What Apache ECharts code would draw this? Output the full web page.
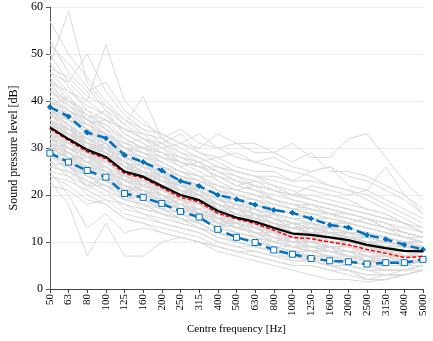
<!DOCTYPE html>
<html>
<head>
<meta charset="utf-8">
<script src="https://cdn.jsdelivr.net/npm/echarts@6/dist/echarts.min.js"></script>
<style>html,body{margin:0;padding:0;background:#fff}#c{width:433px;height:341px}</style>
</head>
<body>
<div id="c"></div>
<script>
var categories = ['50','63','80','100','125','160','200','250','315','400','500','630','800','1000','1250','1600','2000','2500','3150','4000','5000'];
var yTicks = [0,10,20,30,40,50,60];

var meanLevel   = [34.4,31.9,29.6,28.1,25.0,23.9,21.9,20.0,18.9,16.6,15.2,14.3,13.0,11.8,11.5,11.0,10.4,9.4,8.7,8.1,8.0];
var medianLevel = [34.1,31.6,29.2,27.7,24.6,23.6,21.5,19.5,18.5,16.1,14.9,13.9,12.5,11.0,10.7,10.0,9.4,8.4,7.6,6.7,6.9];
var upperLevel  = [38.7,36.7,33.3,32.1,28.5,27.0,25.2,23.0,21.9,20.0,19.1,17.9,16.8,16.2,15.0,13.6,13.1,11.5,10.6,9.4,8.4];
var lowerLevel  = [28.9,27.0,25.2,23.8,20.3,19.5,18.2,16.5,15.3,12.7,11.0,9.9,8.3,7.4,6.5,6.0,5.8,5.3,5.6,5.6,6.3];

var individualSpectra = [
  [40,38,36,33,30,28,27,25,24,21,20,19,17,16,15,14,13,12,11,10,10],
  [30,28,26,25,22,21,19,17,16,14,13,12,11,10,9,9,8,7,6,6,6],
  [36,34,30,31,26,27,23,22,21,18,17,17,15,13,14,12,12,11,10,9,9],
  [33,30,28,26,23,22,21,19,18,15,14,13,11,10,10,9,9,8,8,7,7],
  [45,41,37,35,31,29,26,24,22,20,18,17,15,14,13,12,11,10,9,8,8],
  [28,27,25,24,21,20,19,17,17,15,13,12,11,10,10,9,8,7,7,6,6],
  [38,36,33,31,28,26,24,22,21,19,18,17,16,14,14,13,12,11,11,10,10],
  [32,29,27,27,24,23,20,18,19,15,15,16,12,11,13,10,10,11,8,8,8],
  [35,33,31,28,25,25,23,21,19,17,16,14,13,12,11,11,10,9,9,8,7],
  [26,25,22,22,19,18,17,15,14,12,11,10,9,8,7,7,6,5,5,5,5],
  [42,39,35,33,29,27,25,23,22,19,18,17,16,15,15,14,14,13,12,11,10],
  [31,30,29,27,25,22,21,23,18,16,14,16,12,11,13,10,9,10,7,7,7],
  [34,31,28,29,26,24,22,19,19,16,15,15,13,12,12,11,11,10,9,8,8],
  [37,34,32,30,27,25,23,21,20,17,16,15,14,13,12,12,11,10,10,9,9],
  [29,28,24,23,21,21,20,18,16,14,13,12,10,9,9,8,8,7,6,6,6],
  [50,44,40,37,33,31,28,26,24,21,19,18,16,15,14,13,12,11,10,9,9],
  [33,32,30,28,24,26,21,20,22,17,16,17,13,11,14,10,10,9,8,7,8],
  [36,33,31,29,27,25,22,21,18,17,15,14,13,12,11,11,10,10,9,8,8],
  [24,23,21,19,18,17,16,15,13,11,10,9,8,7,7,6,5,4,4,4,4],
  [39,37,34,31,28,27,25,23,21,19,18,16,15,14,13,12,12,11,10,9,9],
  [32,30,27,25,23,23,21,19,18,16,15,14,12,11,11,10,9,9,8,7,7],
  [35,33,30,29,26,24,25,21,20,21,17,15,16,12,12,13,10,10,9,8,8],
  [30,29,26,26,22,21,20,18,17,14,14,13,12,10,10,10,9,8,7,7,6],
  [43,40,38,34,30,28,26,24,22,20,19,18,16,15,14,13,12,11,10,10,10],
  [34,30,29,31,24,24,22,23,19,16,18,14,13,14,11,11,12,9,9,10,8],
  [27,26,24,23,20,19,18,16,15,13,12,11,10,9,9,8,7,6,6,5,5],
  [37,35,31,30,26,24,22,20,19,17,16,15,13,12,12,11,11,10,9,8,8],
  [33,31,29,26,23,25,20,19,21,15,14,16,12,11,10,12,9,8,10,7,7],
  [41,38,35,32,29,28,26,24,23,21,20,19,17,16,16,15,14,13,12,11,11],
  [31,29,27,26,24,23,21,19,18,16,15,14,12,11,10,10,9,9,8,7,7],
  [57,50,45,40,36,33,30,27,25,23,21,20,18,17,16,15,14,13,12,11,10],
  [48,59,44,39,35,32,29,27,26,24,22,21,19,18,17,16,15,14,13,12,11],
  [46,44,50,42,37,34,31,28,27,25,23,21,20,19,18,17,16,15,13,12,11],
  [44,42,40,52,40,36,32,30,28,26,24,23,22,20,19,18,17,16,15,14,12],
  [52,48,43,38,35,41,32,29,27,25,23,22,21,19,18,17,16,15,14,12,11],
  [53,46,42,44,38,35,33,31,33,30,28,27,26,25,24,22,21,19,17,15,13],
  [47,45,41,39,36,34,33,31,30,33,31,31,29,31,28,28,32,33,28,23,19],
  [40,38,36,34,32,30,29,28,27,28,26,25,25,23,25,26,22,21,26,20,16],
  [38,36,35,33,31,30,29,27,26,25,24,22,21,20,22,21,20,21,19,17,15],
  [22,21,18,19,16,15,14,13,12,10,9,8,7,7,6,5,4,3,3,3,4],
  [23,18,7,14,7,7,10,11,10,9,8,7,6,5,5,4,3,2,2,3,4],
  [25,20,13,16,12,13,12,11,10,9,8,8,7,6,6,5,4,2,3,4,5],
  [30,26,22,24,20,17,16,14,13,11,10,9,8,6,6,5,4,2,2,3,4],
  [36,34,33,32,30,30,31,33,29,27,25,24,22,21,19,18,17,16,15,14,13],
  [34,33,31,30,28,27,26,25,24,24,22,23,21,20,20,19,18,17,16,14,12],
  [35,32,30,28,25,24,22,20,19,17,16,14,13,12,11,11,10,9,9,8,8],
  [33,31,29,27,25,27,22,20,18,20,15,14,16,12,11,13,10,10,9,8,8],
  [36,33,30,29,25,24,22,21,20,17,16,15,14,12,12,11,10,9,8,8,8],
  [32,30,28,27,24,23,21,19,18,16,15,14,12,11,11,10,10,9,8,8,7],
  [38,35,32,30,27,25,23,22,20,18,17,16,15,13,13,12,11,11,10,9,9],
  [30,28,27,29,23,22,24,19,17,18,14,13,14,11,10,12,9,8,9,7,7],
  [34,33,29,28,26,24,21,20,19,17,15,14,13,12,11,10,10,9,8,8,8],
  [37,34,31,28,26,25,23,21,19,18,17,15,14,13,12,12,11,10,9,9,8],
  [31,30,28,28,24,22,25,20,18,16,18,13,12,14,11,10,12,9,8,7,7],
  [35,34,31,29,25,24,23,21,20,17,16,15,14,12,12,11,11,10,9,8,8],
  [29,27,25,24,22,21,19,18,17,15,14,13,11,10,10,9,8,8,7,6,6],
  [39,36,33,31,27,26,24,22,21,18,17,16,14,13,12,12,11,10,10,9,9],
  [27,24,22,20,18,16,15,14,13,12,11,10,9,8,8,7,6,5,5,5,5],
  [25,24,20,18,15,14,13,12,11,9,8,7,6,5,5,4,4,3,3,3,4],
  [29,25,23,21,17,16,14,13,12,10,9,9,8,7,6,6,5,4,4,4,5],
  [32,28,25,23,20,18,16,15,14,12,11,10,9,8,7,7,6,5,5,5,6],
  [41,37,33,30,27,24,22,20,18,16,15,13,12,11,10,9,9,8,7,7,7],
  [44,39,36,32,28,26,24,22,21,19,17,16,14,13,12,11,10,9,8,8,8],
  [38,33,32,29,24,23,20,18,16,14,13,12,11,9,9,8,7,6,6,6,6],
  [36,31,29,25,22,21,19,17,16,14,13,12,10,9,8,8,7,6,5,5,6],
  [33,34,30,31,28,26,25,23,22,20,19,18,17,16,15,15,14,13,12,11,10],
  [30,31,29,30,27,25,24,22,22,20,19,19,18,17,17,16,16,15,14,12,11],
  [28,29,27,28,26,24,23,22,21,19,18,18,17,16,15,14,14,13,12,11,10],
  [37,36,34,33,30,29,27,25,24,22,21,20,19,18,18,17,16,15,14,13,12],
  [42,40,36,35,32,30,28,27,26,24,23,22,21,20,19,18,17,16,15,14,12],
  [46,42,39,37,34,32,30,28,26,24,22,21,19,18,17,16,15,14,13,12,11],
  [39,41,36,38,33,31,29,26,27,23,21,22,19,17,18,16,14,15,13,11,10],
  [26,27,21,24,19,20,17,18,15,13,14,11,10,11,8,9,7,6,7,5,5],
  [31,27,29,24,25,20,22,17,18,14,15,12,12,9,10,8,8,6,6,5,5],
  [35,31,33,27,28,22,24,19,20,15,16,13,13,10,11,9,9,7,7,6,6],
  [33,35,28,30,23,25,19,21,16,17,13,14,10,11,8,9,6,7,5,5,6],
  [37,35,30,28,23,21,18,16,14,12,11,10,9,8,7,7,6,5,5,5,6],
  [34,30,27,25,21,19,17,16,14,12,10,9,8,7,7,6,6,5,4,4,5],
  [40,36,31,29,25,22,20,18,16,14,12,11,10,9,8,8,7,6,6,5,6],
  [29,27,26,25,23,22,21,20,19,17,16,15,14,13,12,12,11,10,9,9,9],
  [27,26,25,23,22,21,20,19,18,17,16,15,14,13,13,12,11,10,10,9,9],
  [32,30,29,27,25,24,23,22,21,19,18,17,16,15,14,13,12,11,10,9,9],
  [38,35,32,30,26,24,22,21,19,18,16,15,14,12,11,10,9,8,7,7,7],
  [31,28,28,26,22,20,19,17,16,13,12,11,9,8,8,7,6,5,4,4,5],
  [35,32,31,28,25,22,20,18,17,15,13,12,10,9,8,8,7,6,5,5,6],
  [43,38,34,32,29,27,25,23,21,19,17,16,14,13,13,12,11,10,9,8,8],
  [34,32,31,30,28,27,25,24,23,21,20,19,17,16,15,14,13,12,11,10,9],
  [36,32,30,27,24,23,21,20,19,17,16,15,14,13,13,13,12,12,11,10,10],
  [30,29,25,26,21,22,18,19,16,15,13,14,12,11,12,10,9,10,8,7,7],
  [39,34,31,30,27,23,22,21,18,17,15,14,13,11,10,10,9,9,8,8,8],
  [28,26,24,22,21,19,17,16,15,13,12,11,10,9,8,7,7,6,5,5,5],
  [45,40,37,34,30,27,24,22,20,18,16,15,13,12,11,10,9,8,8,7,7],
  [33,31,28,28,25,21,20,17,17,14,14,13,11,11,9,9,8,8,7,6,6],
  [37,35,32,31,29,27,26,24,23,22,20,19,18,17,16,16,15,14,13,12,11],
  [32,31,30,29,27,25,23,22,20,18,17,16,15,14,14,13,13,12,11,10,9],
  [29,26,23,22,19,18,16,15,13,12,10,9,8,7,6,5,5,4,3,3,4],
  [35,33,29,27,24,23,21,19,18,16,14,13,12,11,10,10,9,8,8,7,7],
  [41,38,36,33,30,29,27,25,24,22,21,20,19,18,17,16,15,14,13,12,11],
  [34,33,30,30,27,24,24,21,21,18,17,16,15,14,13,13,12,11,10,9,8],
  [31,29,27,25,23,21,19,18,16,15,14,12,11,10,9,9,8,7,7,6,6],
  [36,34,32,30,27,26,25,22,21,19,19,17,16,15,15,14,13,12,11,10,9],
  [33,29,27,24,21,21,18,17,15,13,12,11,10,9,8,8,7,6,6,6,6],
  [48,43,38,36,32,30,27,25,23,21,19,18,16,15,14,13,12,11,10,9,9],
  [30,28,26,24,22,20,18,17,15,14,13,12,10,9,9,8,7,7,6,6,6],
  [38,36,34,31,29,27,24,23,21,19,18,17,15,14,13,12,11,11,10,9,9],
  [26,25,23,21,19,18,16,15,14,12,11,10,9,8,8,7,6,6,5,5,5],
  [42,39,37,36,34,32,31,29,28,26,25,24,23,22,21,20,19,17,16,14,12],
  [35,34,33,32,30,29,28,27,26,26,25,24,24,23,23,22,21,20,18,16,14],
  [32,33,31,33,31,32,30,31,29,28,29,27,28,26,25,26,24,23,21,19,16],
  [37,38,35,36,34,33,32,34,31,30,31,29,29,27,29,25,25,24,22,20,17],
  [29,27,24,22,20,19,17,15,14,12,11,10,9,9,8,8,7,6,6,5,6],
  [40,37,35,32,28,26,24,21,20,18,17,16,14,13,12,11,11,10,9,9,8],
  [24,22,19,18,15,14,12,11,10,8,7,6,5,4,3,2,2,1.5,2,3,4]
];

var FONT = 'Liberation Serif';
var series = [];
individualSpectra.forEach(function (s) {
  series.push({type:'line', data:s, symbol:'none', silent:true, z:1,
    lineStyle:{color:'#d9d9d9', width:1}});
});
series.push({type:'line', data:upperLevel, symbol:'diamond', symbolSize:6, z:3,
  itemStyle:{color:'#0070c0'}, lineStyle:{color:'#0070c0', width:2.5, type:[9,5]}});
series.push({type:'line', data:lowerLevel, symbol:'rect', symbolSize:6, z:3,
  itemStyle:{color:'#ffffff', borderColor:'#0070c0', borderWidth:1},
  lineStyle:{color:'#0070c0', width:2.5, type:[9,5]}});
series.push({type:'line', data:medianLevel, symbol:'none', z:4,
  lineStyle:{color:'#ff0000', width:1.5, type:[4,2]}});
series.push({type:'line', data:meanLevel, symbol:'none', z:5,
  lineStyle:{color:'#000000', width:2.2}});

var chart = echarts.init(document.getElementById('c'), null, {renderer:'canvas'});
chart.setOption({
  animation:false,
  backgroundColor:'#ffffff',
  grid:{left:37, right:10, top:7, bottom:52},
  xAxis:{
    type:'category', data:categories, boundaryGap:false,
    name:'Centre frequency [Hz]', nameLocation:'middle', nameGap:34,
    nameTextStyle:{fontFamily:FONT, fontSize:11, color:'#000'},
    axisLine:{lineStyle:{color:'#404040', width:1}},
    axisTick:{show:true, alignWithLabel:true, length:4, lineStyle:{color:'#404040'}},
    axisLabel:{rotate:90, fontFamily:FONT, fontSize:11, color:'#000', margin:5, interval:0},
    splitLine:{show:false}
  },
  yAxis:{
    type:'value', min:yTicks[0], max:yTicks[yTicks.length-1], interval:10,
    name:'Sound pressure level [dB]', nameLocation:'middle', nameGap:27,
    nameTextStyle:{fontFamily:FONT, fontSize:12, color:'#000'},
    axisLine:{show:true, lineStyle:{color:'#595959', width:1}},
    axisTick:{show:true, length:4, lineStyle:{color:'#595959'}},
    axisLabel:{fontFamily:FONT, fontSize:12, color:'#000', margin:7},
    splitLine:{show:true, lineStyle:{color:'#ededed', width:1}}
  },
  series:series
});
</script>
</body>
</html>
